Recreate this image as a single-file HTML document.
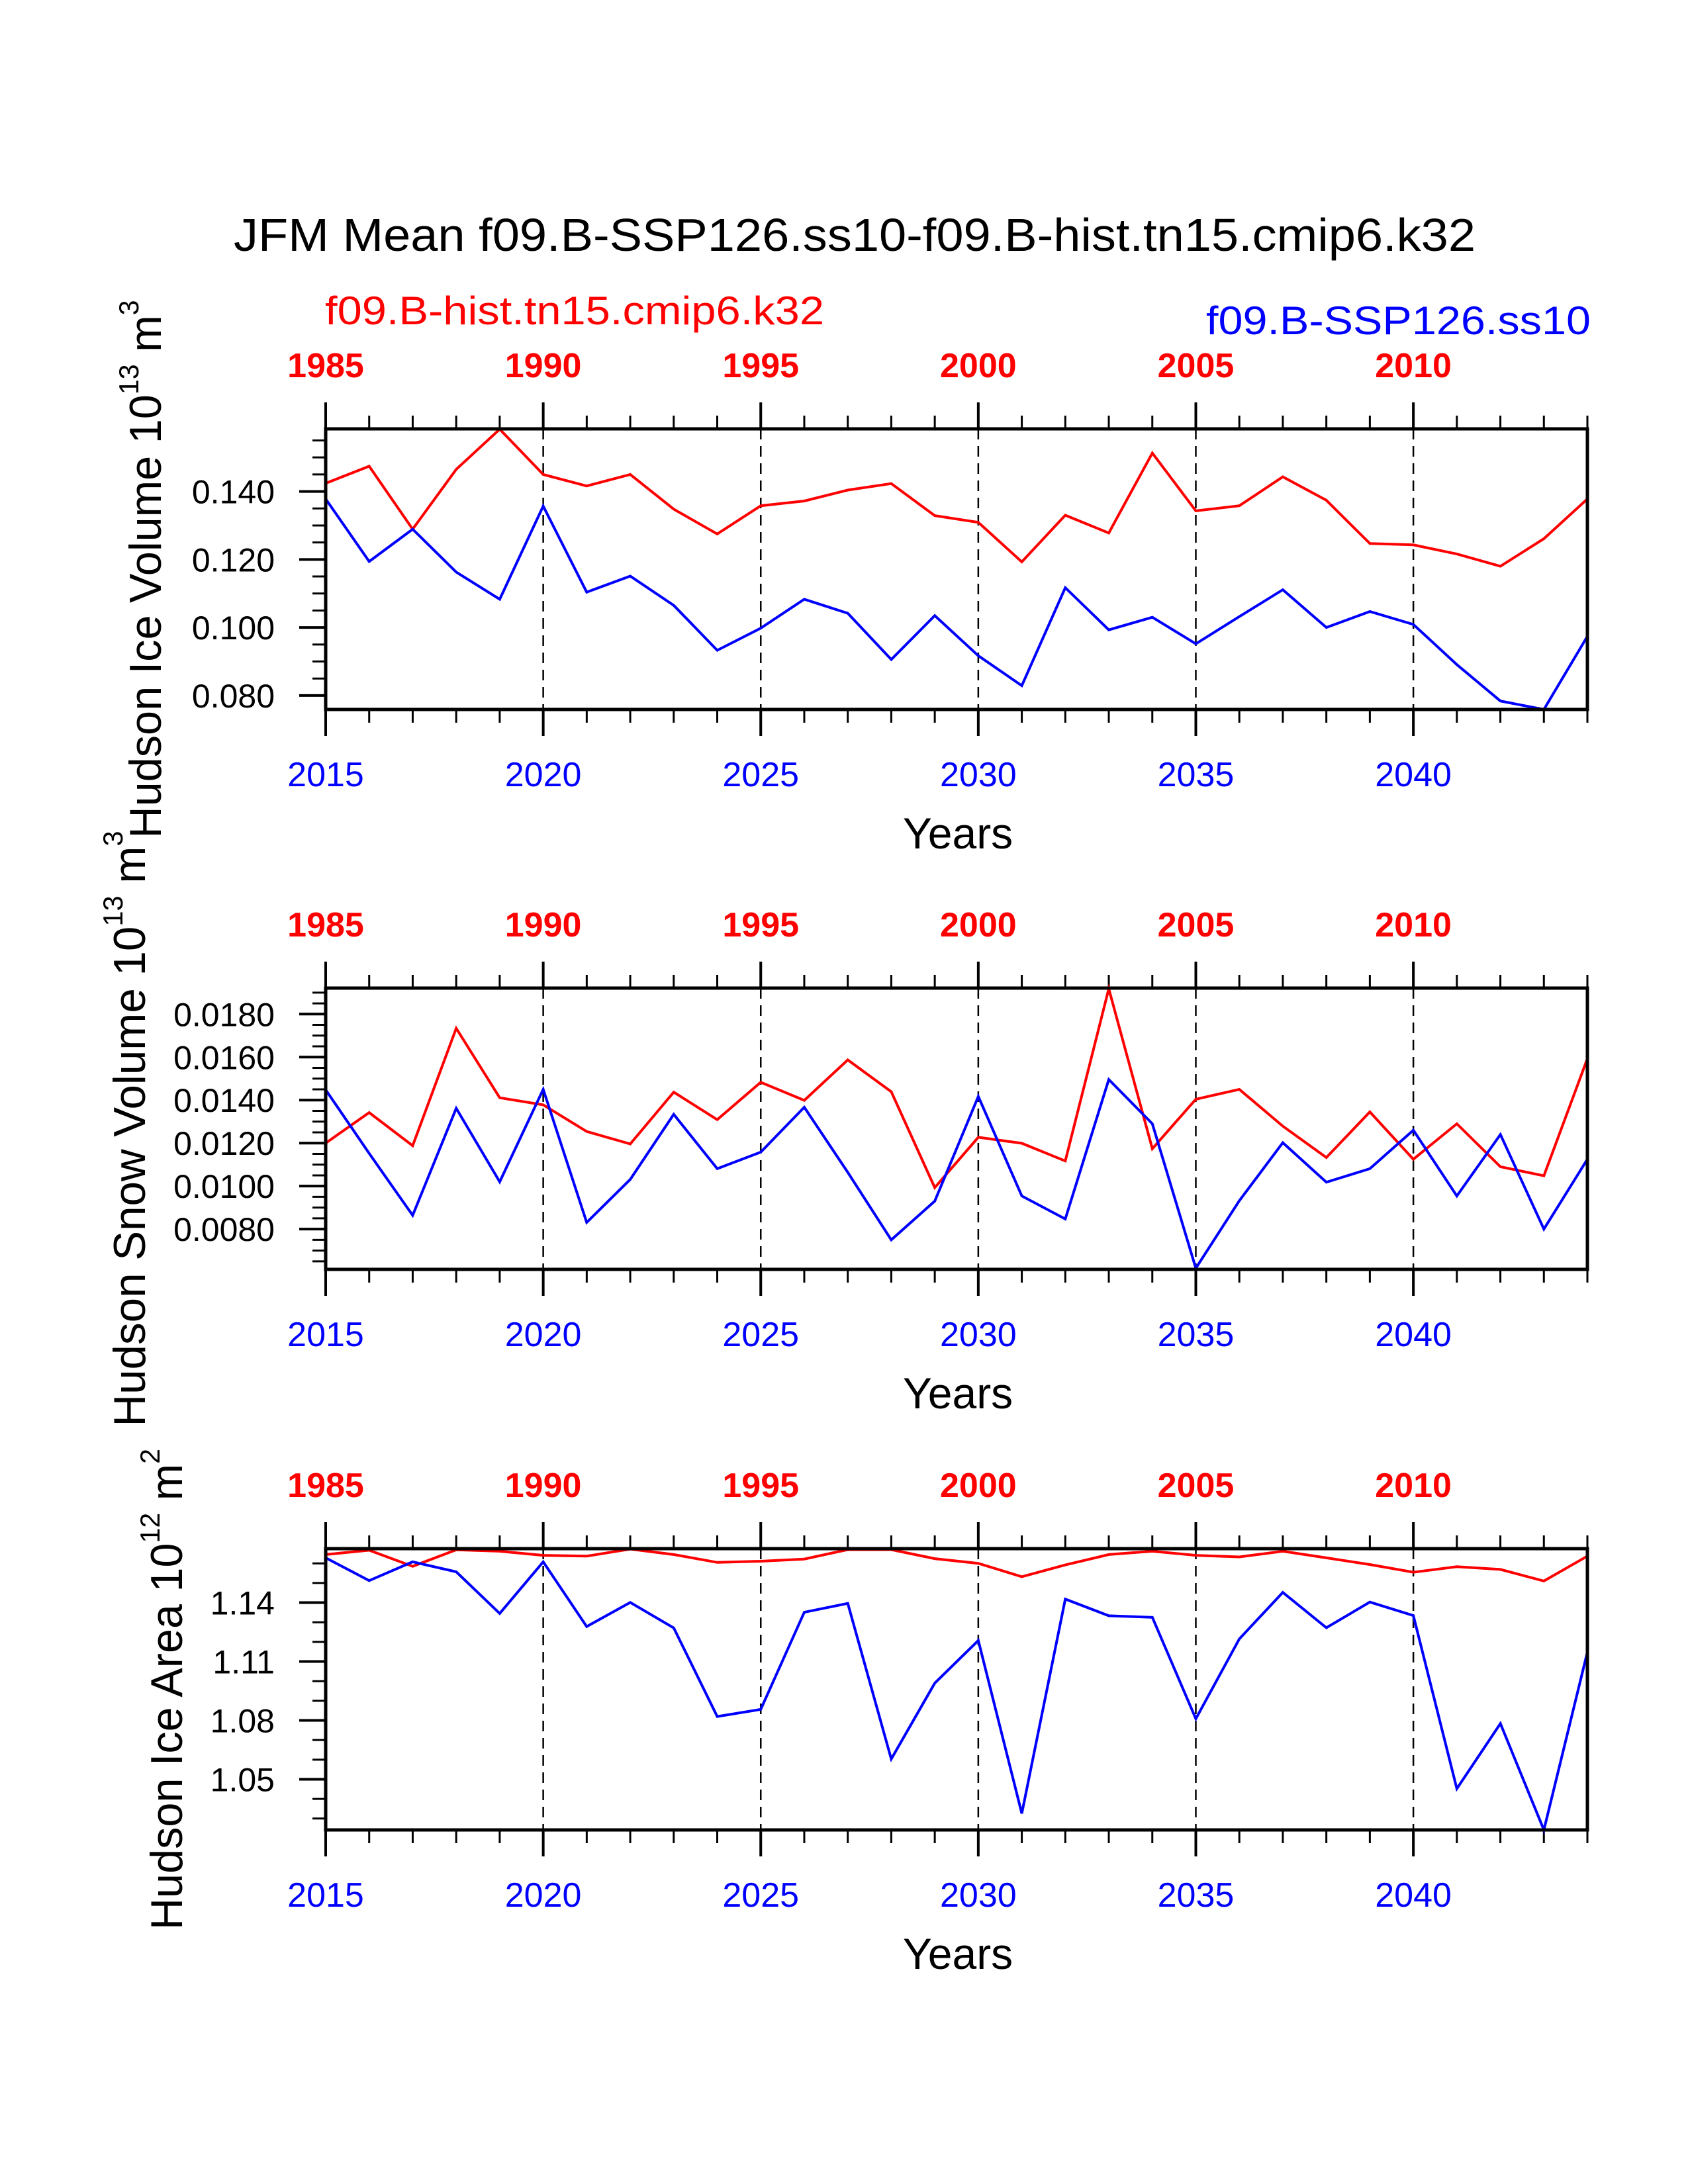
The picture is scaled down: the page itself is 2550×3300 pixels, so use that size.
<!DOCTYPE html>
<html><head><meta charset="utf-8"><style>
html,body{margin:0;padding:0;background:#fff;}
svg{display:block;font-family:"Liberation Sans",Arial,sans-serif;}
</style></head><body>
<svg id="chart" width="2550" height="3300" viewBox="0 0 2550 3300" xmlns="http://www.w3.org/2000/svg">
<rect width="2550" height="3300" fill="#fff"/>
<text x="1291" y="379" font-size="70" text-anchor="middle" textLength="1876" lengthAdjust="spacingAndGlyphs">JFM Mean f09.B-SSP126.ss10-f09.B-hist.tn15.cmip6.k32</text>
<text x="491" y="490" font-size="60" fill="#ff0000" textLength="754" lengthAdjust="spacingAndGlyphs">f09.B-hist.tn15.cmip6.k32</text>
<text x="2403" y="505" font-size="60" fill="#0000ff" text-anchor="end" textLength="581" lengthAdjust="spacingAndGlyphs">f09.B-SSP126.ss10</text>
<g id="panels"></g>
</svg>
<script>
const years = [];
for (let y = 2015; y <= 2044; y++) years.push(y);
const iceVolHist = [0.1424,0.1474,0.1289,0.1465,0.1583,0.1450,0.1416,0.1450,0.1348,0.1275,0.1358,0.1372,0.1404,0.1423,0.1329,0.1309,0.1193,0.1330,0.1278,0.1513,0.1343,0.1358,0.1443,0.1374,0.1247,0.1243,0.1216,0.1180,0.1261,0.1378];
const iceVolSsp = [0.1378,0.1194,0.1289,0.1163,0.1083,0.1357,0.1104,0.1151,0.1065,0.0933,0.0998,0.1083,0.1042,0.0906,0.1035,0.0917,0.0829,0.1117,0.0993,0.1030,0.0952,0.1032,0.1111,0.1000,0.1047,0.1009,0.0891,0.0784,0.0759,0.0974];
const snowHist = [0.01200,0.01342,0.01188,0.01734,0.01411,0.01378,0.01254,0.01196,0.01437,0.01309,0.01483,0.01399,0.01587,0.01439,0.00993,0.01227,0.01199,0.01117,0.01918,0.01174,0.01404,0.01450,0.01279,0.01133,0.01345,0.01125,0.01290,0.01090,0.01048,0.01593];
const snowSsp = [0.01448,0.01152,0.00864,0.01362,0.01020,0.01450,0.00831,0.01031,0.01334,0.01081,0.01158,0.01367,0.01064,0.00750,0.00930,0.01417,0.00954,0.00847,0.01496,0.01290,0.00618,0.00932,0.01202,0.01018,0.01081,0.01260,0.00954,0.01240,0.00800,0.01125];
const areaHist = [1.1645,1.1667,1.1585,1.1669,1.1662,1.1641,1.1637,1.1673,1.1645,1.1605,1.1611,1.1622,1.1670,1.1670,1.1624,1.1600,1.1532,1.1592,1.1645,1.1662,1.1641,1.1633,1.1662,1.1628,1.1594,1.1555,1.1583,1.1569,1.1510,1.1637];
const areaSsp = [1.1628,1.1512,1.1608,1.1557,1.1345,1.1608,1.1278,1.1401,1.1271,1.0820,1.0856,1.1351,1.1396,1.0603,1.0990,1.1207,1.0326,1.1418,1.1333,1.1325,1.0808,1.1215,1.1452,1.1272,1.1403,1.1334,1.0452,1.0784,1.0242,1.1148];
const iceVolTicks = ["0.140","0.120","0.100","0.080"];
const snowTicks = ["0.0180","0.0160","0.0140","0.0120","0.0100","0.0080"];
const areaTicks = ["1.14","1.11","1.08","1.05"];
const blueYearLabels = ["2015","2020","2025","2030","2035","2040"];
const redYearLabels = ["1985","1990","1995","2000","2005","2010"];

const NS = "http://www.w3.org/2000/svg";
const root = document.getElementById('panels');
function mk(tag, attrs, parent) {
  const e = document.createElementNS(NS, tag);
  for (const k in attrs) e.setAttribute(k, attrs[k]);
  parent.appendChild(e);
  return e;
}
const X0 = 492, X1 = 2398;
const xs = y => X0 + (y - 2015) * (X1 - X0) / 29;

const panels = [
  {name:'ice-volume', top:648, bot:1072, ymin:0.0759, ymax:0.1584, minorStep:0.005, major:iceVolTicks, hist:iceVolHist, ssp:iceVolSsp,
   title:['Hudson Ice Volume 10','13',' m','3'], tx:243, tlen:813},
  {name:'snow-volume', top:1493, bot:1918, ymin:0.006127, ymax:0.01921, minorStep:0.0005, major:snowTicks, hist:snowHist, ssp:snowSsp,
   title:['Hudson Snow Volume 10','13',' m','3'], tx:219, tlen:900},
  {name:'ice-area', top:2340, bot:2765, ymin:1.0242, ymax:1.1675, minorStep:0.01, major:areaTicks, hist:areaHist, ssp:areaSsp,
   title:['Hudson Ice Area 10','12',' m','2'], tx:275, tlen:727}
];

panels.forEach(p => {
  const g = mk('g', {}, root);
  
  
  const ys = v => p.bot - (v - p.ymin) / (p.ymax - p.ymin) * (p.bot - p.top);
  // dashed grid
  [2020,2025,2030,2035,2040].forEach(yr => {
    const l = mk('line', {x1:xs(yr), x2:xs(yr), y1:p.top, y2:p.bot, stroke:'#000', 'stroke-width':2.5, 'stroke-dasharray':'16 10'}, g);
    
    
  });
  // x ticks
  years.forEach(yr => {
    const maj = (yr - 2015) % 5 === 0;
    const len = maj ? 40 : 20;
    mk('line', {x1:xs(yr), x2:xs(yr), y1:p.top - len, y2:p.top, stroke:'#000', 'stroke-width':maj?4:3}, g);
    mk('line', {x1:xs(yr), x2:xs(yr), y1:p.bot, y2:p.bot + len, stroke:'#000', 'stroke-width':maj?4:3}, g);
  });
  // x labels
  blueYearLabels.forEach((lab, i) => {
    const x = xs(+lab);
    const t = mk('text', {x:x, y:p.bot + 116, 'font-size':52, fill:'#0000ff', 'text-anchor':'middle'}, g);
    
    
    t.textContent = lab;
    const r = mk('text', {x:x, y:p.top - 78, 'font-size':52, 'font-weight':'bold', fill:'#ff0000', 'text-anchor':'middle'}, g);
    
    
    r.textContent = redYearLabels[i];
  });
  // y minor ticks
  const start = Math.ceil(p.ymin / p.minorStep - 1e-6);
  for (let k = start; k * p.minorStep <= p.ymax + 1e-9; k++) {
    const y = ys(k * p.minorStep);
    mk('line', {x1:X0 - 20, x2:X0, y1:y, y2:y, stroke:'#000', 'stroke-width':3}, g);
  }
  // y major ticks + labels
  p.major.forEach(lab => {
    const y = ys(parseFloat(lab));
    mk('line', {x1:X0 - 40, x2:X0, y1:y, y2:y, stroke:'#000', 'stroke-width':4}, g);
    const t = mk('text', {x:415, y:y + 18, 'font-size':50, 'text-anchor':'end'}, g);
    
    
    t.textContent = lab;
  });
  // series
  const mkLine = (vals, color, nm) => {
    const pts = vals.map((v, i) => xs(years[i]).toFixed(1) + ',' + ys(v).toFixed(1)).join(' ');
    const pl = mk('polyline', {points:pts, fill:'none', stroke:color, 'stroke-width':4, 'stroke-linejoin':'miter'}, g);
    
    
  };
  mkLine(p.hist, '#ff0000', 'series-hist');
  mkLine(p.ssp, '#0000ff', 'series-ssp');
  // frame
  const fr = mk('rect', {x:X0, y:p.top, width:X1 - X0, height:p.bot - p.top, fill:'none', stroke:'#000', 'stroke-width':5}, g);
  
  
  // x axis title
  const xt = mk('text', {x:1447, y:p.bot + 210, 'font-size':66, 'text-anchor':'middle'}, g);
  
  
  xt.textContent = 'Years';
  // y title
  const cy = (p.top + p.bot) / 2;
  const yt = mk('text', {x:0, y:0, 'font-size':68, 'text-anchor':'middle', transform:'translate(' + p.tx + ',' + cy + ') rotate(-90)', textLength:p.tlen, lengthAdjust:'spacingAndGlyphs'}, g);
  
  
  const s1 = mk('tspan', {}, yt); s1.textContent = p.title[0];
  const s2 = mk('tspan', {'font-size':42, dy:-34}, yt); s2.textContent = p.title[1];
  const s3 = mk('tspan', {dy:34}, yt); s3.textContent = p.title[2];
  const s4 = mk('tspan', {'font-size':42, dy:-34}, yt); s4.textContent = p.title[3];
});
</script>
</body></html>
